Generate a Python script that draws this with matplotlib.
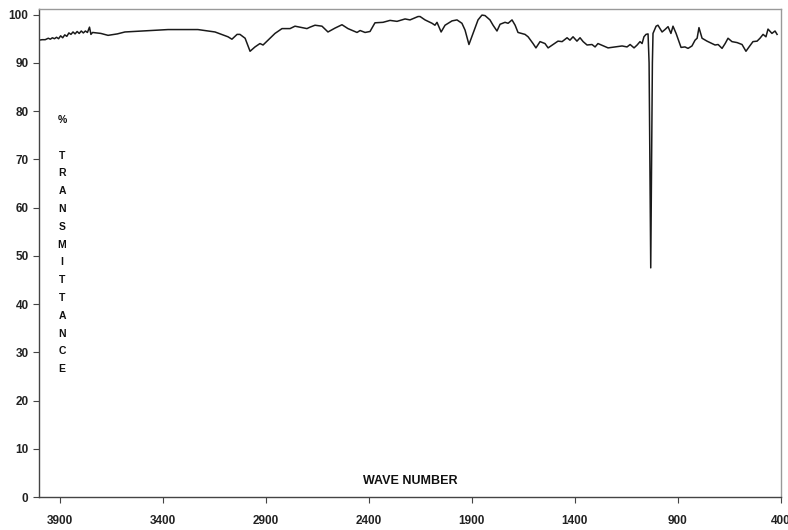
import matplotlib
matplotlib.use("Agg")
import matplotlib.pyplot as plt

# IR spectrum
wave_number = [4000, 3985, 3970, 3955, 3945, 3935, 3925, 3915, 3905, 3895,
               3885, 3875, 3865, 3855, 3845, 3835, 3825, 3815, 3805, 3795,
               3785, 3775, 3765, 3755, 3748, 3740, 3700, 3665, 3620, 3583,
               3500, 3374, 3229, 3146, 3083, 3064, 3039, 3025, 3000, 2976,
               2952, 2928, 2913, 2889, 2855, 2821, 2782, 2758, 2734, 2700,
               2685, 2661, 2627, 2598, 2564, 2530, 2501, 2457, 2442, 2418,
               2394, 2370, 2331, 2297, 2263, 2224, 2200, 2161, 2151, 2127,
               2093, 2079, 2069, 2049, 2030, 1996, 1972, 1948, 1933, 1914,
               1894, 1870, 1851, 1836, 1812, 1797, 1778, 1763, 1739, 1724,
               1705, 1690, 1676, 1642, 1627, 1603, 1589, 1569, 1545, 1530,
               1506, 1482, 1462, 1438, 1424, 1409, 1390, 1375, 1360, 1341,
               1317, 1302, 1288, 1239, 1205, 1171, 1147, 1132, 1113, 1098,
               1084, 1074, 1065, 1055, 1045, 1040, 1036, 1032, 1028, 1024,
               1021, 1006, 997, 977, 963, 948, 934, 924, 909, 885,
               866, 851, 832, 817, 807, 798, 783, 759, 744, 720,
               705, 686, 671, 657, 638, 613, 589, 570, 555, 536,
               516, 502, 487, 473, 463, 444, 429, 419]
transmittance = [94.7, 94.8, 94.8, 95.1, 94.9, 95.2, 95.0, 95.3, 95.0, 95.6,
                 95.2, 95.8, 95.5, 96.2, 95.9, 96.4, 96.0, 96.5, 96.1, 96.6,
                 96.2, 96.6, 96.3, 97.4, 95.9, 96.3, 96.1, 95.7, 96.0, 96.4,
                 96.6, 96.9, 96.9, 96.4, 95.4, 94.9, 95.9, 95.9, 95.1, 92.4,
                 93.3, 94.0, 93.7, 94.7, 96.1, 97.1, 97.1, 97.6, 97.4, 97.1,
                 97.4, 97.8, 97.6, 96.4, 97.2, 97.9, 97.1, 96.3, 96.7, 96.3,
                 96.5, 98.3, 98.4, 98.8, 98.6, 99.1, 98.9, 99.6, 99.6, 98.9,
                 98.2, 97.8, 98.4, 96.4, 97.8, 98.7, 98.9, 98.2, 96.8, 93.8,
                 96.1, 98.9, 99.9, 99.8, 98.9, 97.8, 96.6, 98.0, 98.4, 98.2,
                 98.9, 97.8, 96.3, 95.9, 95.4, 94.0, 93.1, 94.4, 94.0, 93.1,
                 93.8, 94.5, 94.4, 95.2, 94.7, 95.4, 94.5, 95.2, 94.4, 93.7,
                 93.8, 93.3, 94.0, 93.1, 93.3, 93.5, 93.3, 93.8, 93.1, 93.7,
                 94.4, 94.0, 95.4, 95.9, 96.0, 90.0, 70.0, 47.5, 70.0, 90.0,
                 96.1, 97.6, 97.8, 96.4, 96.9, 97.5, 96.1, 97.6, 96.1, 93.2,
                 93.3, 93.0, 93.5, 94.7, 95.1, 97.3, 95.1, 94.5, 94.2, 93.7,
                 93.8, 93.0, 94.0, 95.1, 94.4, 94.2, 93.8, 92.4, 93.3, 94.4,
                 94.5, 95.1, 95.9, 95.4, 97.0, 96.1, 96.6, 95.9]

x_ticks = [3900, 3400, 2900, 2400, 1900, 1400, 900, 400]
y_ticks = list(range(0, 101, 10))
y_letters = ['%', '', 'T', 'R', 'A', 'N', 'S', 'M', 'I', 'T', 'T', 'A', 'N', 'C', 'E']

fig = plt.figure(figsize=(7.88, 5.30), dpi=100)
ax = fig.add_axes([39 / 788, 1 - 497 / 530, 742 / 788, (497 - 9.3) / 530])

ax.plot(wave_number, transmittance, color='#1a1a1a', linewidth=1.1)

ax.set_xlim(4000, 400)
ax.set_ylim(0, 101.1)
ax.set_xticks(x_ticks)
ax.set_yticks(y_ticks)
ax.tick_params(axis='both', direction='out', length=4, width=0.8, color='#444444',
               labelsize=8.5, labelcolor='#222222')
ax.tick_params(axis='x', pad=9)
for lbl in ax.get_xticklabels() + ax.get_yticklabels():
    lbl.set_fontfamily('Liberation Sans')
    lbl.set_fontweight('bold')

for side in ['left', 'bottom']:
    ax.spines[side].set_color('#444444')
    ax.spines[side].set_linewidth(1.0)
for side in ['top', 'right']:
    ax.spines[side].set_color('#999999')
    ax.spines[side].set_linewidth(1.0)

ax.text(0.5, 0.033, 'WAVE NUMBER', transform=ax.transAxes, ha='center', va='center',
        fontsize=9, fontweight='bold', family=['Liberation Sans'],
        color='#111111')

# stacked axis title letters
for i, ch in enumerate(y_letters):
    if ch:
        fig.text(62 / 788, 1 - (120 + i * 17.8) / 530 if i else 1 - 120 / 530, ch,
                 ha='center', va='center', fontsize=7.5, fontweight='bold',
                 family=['Liberation Sans'], color='#111111')

fig.savefig('out.png', dpi=100)
